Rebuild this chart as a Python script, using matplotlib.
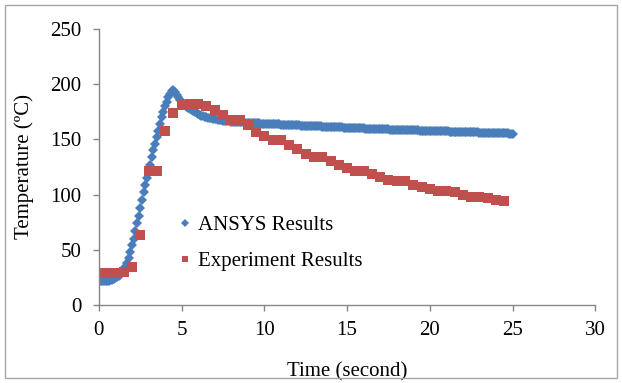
import matplotlib
matplotlib.use('Agg')
import matplotlib.pyplot as plt
import numpy as np
from matplotlib.patches import Rectangle

# ANSYS simulation, one value every 0.1 s
ansys_t = np.round(np.arange(0, 25.01, 0.1), 1)
ansys_temp = [
    # 0.0 - 6.0 s
    22, 22, 22, 22, 22, 22, 22, 22.5, 23, 23.5,
    24, 25, 26, 27.5, 29.5, 31.5, 34, 38, 43, 48,
    54, 60, 67, 74, 81, 88, 95, 102, 109, 115,
    121, 127, 134, 140, 146, 152, 158, 164, 170, 175,
    180, 184, 188, 191, 194, 195, 193, 190, 188, 186,
    184, 182.5, 181, 179.5, 178.5, 177.5, 176.5, 175.5, 174.5, 173.5,
    172.8,
    # 6.1 - 10.0 s
    172.2, 171.6, 171.1, 170.6, 170.2, 169.8, 169.4, 169.0, 168.7, 168.4,
    168.1, 167.8, 167.55, 167.3, 167.1, 166.9, 166.7, 166.5, 166.35, 166.2,
    166.05, 165.9, 165.8, 165.7, 165.6, 165.5, 165.4, 165.3, 165.2, 165.1,
    165.0, 164.9, 164.8, 164.7, 164.6, 164.5, 164.4, 164.3, 164.2, 164.1,
    # 10.1 - 17.0 s
    164.0, 164.0, 163.9, 163.8, 163.7, 163.7, 163.6, 163.5, 163.5, 163.4,
    163.3, 163.2, 163.2, 163.1, 163.0, 163.0, 162.9, 162.8, 162.8, 162.7,
    162.6, 162.5, 162.5, 162.4, 162.3, 162.3, 162.2, 162.1, 162.1, 162.0,
    161.9, 161.8, 161.8, 161.7, 161.6, 161.6, 161.5, 161.4, 161.4, 161.3,
    161.2, 161.1, 161.1, 161.0, 160.9, 160.9, 160.8, 160.7, 160.7, 160.6,
    160.5, 160.4, 160.4, 160.3, 160.2, 160.2, 160.1, 160.0, 160.0, 159.9,
    159.8, 159.7, 159.7, 159.6, 159.5, 159.5, 159.4, 159.3, 159.3, 159.2,
    # 17.1 - 25.0 s
    159.2, 159.1, 159.1, 159.0, 159.0, 158.9, 158.9, 158.8, 158.8, 158.7,
    158.7, 158.6, 158.6, 158.5, 158.5, 158.4, 158.4, 158.3, 158.3, 158.2,
    158.2, 158.1, 158.1, 158.0, 158.0, 157.9, 157.9, 157.8, 157.8, 157.7,
    157.7, 157.6, 157.6, 157.5, 157.5, 157.4, 157.4, 157.3, 157.3, 157.2,
    157.2, 157.1, 157.1, 157.0, 157.0, 156.9, 156.9, 156.8, 156.8, 156.7,
    156.7, 156.6, 156.6, 156.5, 156.5, 156.4, 156.4, 156.3, 156.3, 156.2,
    156.2, 156.1, 156.1, 156.0, 156.0, 155.9, 155.9, 155.8, 155.8, 155.7,
    155.7, 155.6, 155.6, 155.5, 155.5, 155.4, 155.4, 155.3, 155.3, 155.2,
]

# experiment: one reading every 0.5 s
exp_t = np.arange(0, 24.51, 0.5)
exp_temp = [
    29, 29, 29, 30, 34, 63, 121, 121, 158, 174,
    181, 182, 182, 180, 177, 172, 168, 168, 163, 157,
    153, 149, 149, 145, 141, 137, 134, 134, 130, 127,
    124, 121, 121, 119, 116, 113, 112, 112, 109, 107,
    105, 103, 103, 102, 100, 98, 98, 97, 95, 94,
]

BLUE = '#4A7EBB'
RED = '#C0504D'
GRAY = '#868686'
FS = 15

plt.rcParams['font.family'] = ['Liberation Serif', 'DejaVu Serif']

fig = plt.figure(figsize=(6.22, 3.83), dpi=100)
ax = fig.add_axes([0.159, 0.2037, 0.798, 0.7206])

ax.plot(ansys_t, ansys_temp, 'D', color=BLUE, markersize=5.4, markeredgewidth=0,
        label='ANSYS Results')
ax.plot(exp_t, exp_temp, 's', color=RED, markersize=6.6, markeredgewidth=0,
        label='Experiment Results')

ax.set_xlim(0, 30)
ax.set_ylim(0, 250)
ax.set_xticks(range(0, 31, 5))
ax.set_yticks(range(0, 251, 50))

for side in ('top', 'right'):
    ax.spines[side].set_visible(False)
for side in ('left', 'bottom'):
    ax.spines[side].set_color(GRAY)
    ax.spines[side].set_linewidth(1)
ax.tick_params(axis='both', colors=GRAY, labelcolor='black', labelsize=FS,
               length=4.5, width=1)
ax.tick_params(axis='y', pad=8)
ax.tick_params(axis='x', pad=7)

ax.set_xlabel('Time (second)', fontsize=FS, labelpad=16)
ax.set_ylabel('Temperature (ºC)', fontsize=FS, labelpad=12)

leg = ax.legend(loc='upper left', bbox_to_anchor=(0.145, 0.355), frameon=False,
                fontsize=FS, handlelength=0.6, handletextpad=0.3,
                labelspacing=0.8, markerscale=0.75, borderaxespad=0)

# chart-area border
fig.patches.append(Rectangle((5 / 622, 5 / 383), 612 / 622, 373 / 383,
                             transform=fig.transFigure, fill=False,
                             edgecolor='#A6A6A6', linewidth=1))

fig.savefig('out.png', dpi=100)
